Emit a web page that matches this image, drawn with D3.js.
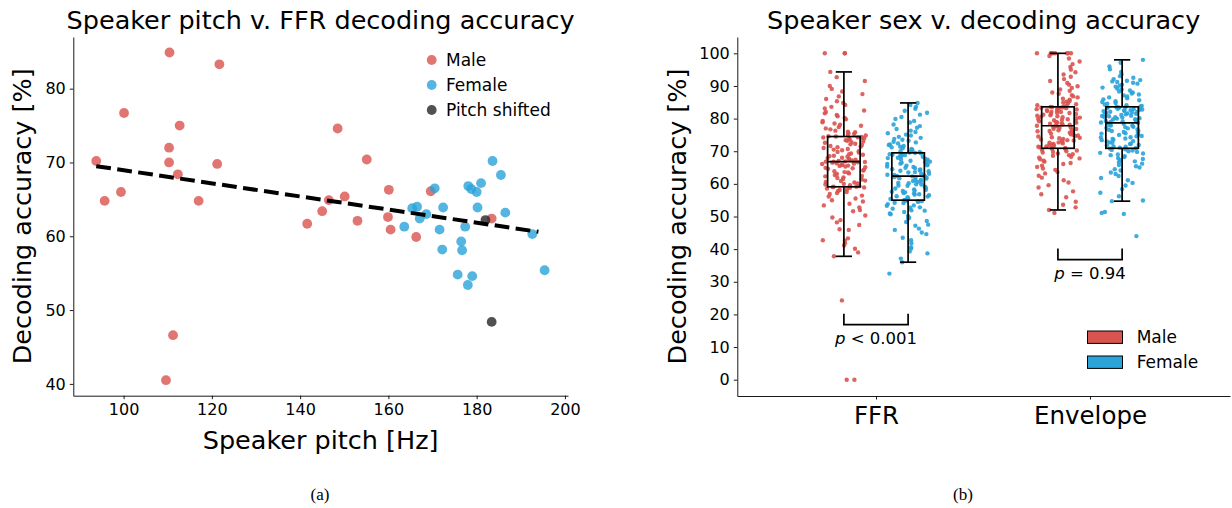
<!DOCTYPE html>
<html>
<head>
<meta charset="utf-8">
<script src="https://cdn.jsdelivr.net/npm/d3@7"></script>
<style>
  body { margin: 0; background: #fff; }
  text { font-family: "DejaVu Sans", sans-serif; fill: #000; }
</style>
</head>
<body>
<div id="chart"></div>
<script>
// ---- panel (a): speaker pitch vs FFR decoding accuracy ----
const malePitch = [110.4, 121.7, 100.1, 112.7, 110.3, 93.8, 110.3, 121.2, 112.3, 95.7, 99.4, 117.0, 141.6, 145.0,
  111.2, 109.6, 148.5, 155.1, 146.5, 150.1, 153.0, 160.1, 159.9, 160.5, 166.3, 169.6, 183.4];
const maleAcc = [84.9, 83.3, 76.7, 75.0, 72.0, 70.2, 70.0, 69.8, 68.4, 64.8, 66.0, 64.8, 61.7, 63.4,
  46.6, 40.5, 74.6, 70.4, 64.9, 65.4, 62.1, 66.3, 62.6, 60.9, 59.9, 66.1, 62.4];
const femalePitch = [170.5, 165.4, 166.5, 168.6, 167.1, 172.4, 163.6, 171.6, 172.2, 176.5, 176.7, 177.4, 175.7,
  179.0, 178.0, 178.1, 178.8, 180.0, 181.0, 180.2, 183.6, 185.5, 186.5, 192.6, 195.4];
const femaleAcc = [66.5, 63.8, 64.0, 63.0, 62.4, 63.9, 61.3, 60.9, 58.2, 59.3, 58.1, 61.3, 54.8,
  54.6, 53.4, 66.8, 66.4, 66.0, 67.2, 63.9, 70.2, 68.3, 63.2, 60.3, 55.4];
const shiftedPitch = [182.0, 183.4];
const shiftedAcc = [62.2, 48.4];
const fitPitch = [93.8, 194.0];
const fitAcc = [69.5, 60.6];
const pitchTicks = [100, 120, 140, 160, 180, 200];
const accTicksA = [40, 50, 60, 70, 80];
const legendA = ["Male", "Female", "Pitch shifted"];

// ---- panel (b): speaker sex vs decoding accuracy ----
const features = ["FFR", "Envelope"];
const sexes = ["Male", "Female"];
const ffrMale = [0, 0, 24.3, 37.8, 39.0, 40.1, 41.1, 41.8, 42.6, 42.7, 43.3, 45.9, 46.1, 47.4, 48.2, 48.9, 49.7, 50.3,
  51.6, 52.0, 52.8, 53.4, 53.9, 54.6, 55.0, 55.5, 56.1, 56.4, 56.9, 57.2, 57.5, 57.8, 58.1, 58.3, 58.6, 58.8, 58.9,
  59.0, 59.1, 59.1, 59.3, 59.6, 59.8, 60.0, 60.1, 60.4, 60.6, 60.9, 61.0, 61.3, 61.5, 61.8, 62.0, 62.3, 62.4, 62.7,
  63.0, 63.2, 63.5, 63.6, 63.9, 64.1, 64.3, 64.6, 64.8, 64.9, 65.1, 65.3, 65.5, 65.6, 65.8, 65.9, 66.1, 66.2, 66.3,
  66.5, 66.6, 66.7, 66.8, 66.8, 66.9, 67.0, 67.2, 67.4, 67.5, 67.7, 67.9, 68.0, 68.3, 68.5, 68.6, 68.9, 69.1, 69.3,
  69.6, 69.8, 70.0, 70.3, 70.5, 70.7, 71.0, 71.2, 71.4, 71.6, 71.9, 72.1, 72.3, 72.6, 72.8, 73.0, 73.2, 73.4, 73.6,
  73.8, 73.9, 74.1, 74.2, 74.3, 74.4, 74.5, 74.6, 74.8, 75.0, 75.3, 75.5, 75.8, 76.0, 76.3, 76.7, 77.0, 77.4, 77.8,
  78.1, 78.5, 78.9, 79.3, 79.8, 80.2, 80.7, 81.1, 81.6, 82.0, 82.5, 83.1, 83.6, 84.2, 84.8, 85.3, 86.0, 86.8, 87.5,
  88.3, 89.1, 90.0, 91.5, 92.7, 94.3, 100, 100, 100];
const ffrFemale = [32.5, 36.0, 37.1, 38.7, 39.3, 40.2, 40.6, 41.8, 42.7, 43.5, 44.6, 45.1, 45.9, 46.3, 47.2, 47.5,
  48.3, 48.6, 49.4, 49.6, 50.2, 50.7, 50.9, 51.4, 51.8, 51.9, 52.4, 52.7, 52.8, 53.3, 53.4, 53.8, 54.1, 54.2, 54.5,
  54.6, 54.7, 54.9, 54.9, 55.0, 55.1, 55.4, 55.5, 55.9, 56.1, 56.2, 56.5, 56.7, 56.8, 57.1, 57.2, 57.4, 57.6, 57.8,
  57.9, 58.2, 58.3, 58.6, 58.7, 59.0, 59.1, 59.4, 59.5, 59.8, 59.9, 60.2, 60.3, 60.6, 60.7, 60.9, 61.2, 61.3, 61.6,
  61.7, 61.9, 62.0, 62.1, 62.3, 62.3, 62.4, 62.5, 62.7, 62.8, 63.1, 63.2, 63.5, 63.6, 63.9, 64.0, 64.2, 64.4, 64.5,
  64.8, 64.9, 65.2, 65.3, 65.6, 65.7, 65.9, 66.1, 66.2, 66.5, 66.6, 66.8, 67.0, 67.1, 67.4, 67.5, 67.7, 67.9, 68.0,
  68.3, 68.4, 68.6, 68.8, 68.9, 69.1, 69.2, 69.4, 69.5, 69.6, 69.8, 70.0, 70.3, 70.4, 70.7, 70.9, 71.2, 71.4, 71.6,
  71.9, 72.1, 72.4, 72.7, 72.9, 73.2, 73.5, 73.8, 74.1, 74.4, 74.8, 75.1, 75.5, 75.9, 76.3, 76.8, 77.2, 77.7, 78.2,
  78.8, 79.3, 79.9, 80.5, 81.2, 81.8, 82.4, 83.0, 83.6, 84.2, 84.8];
const envMale = [51.1, 52.0, 52.8, 53.6, 54.5, 55.9, 56.8, 57.7, 58.9, 59.6, 60.4, 61.1, 61.9, 62.5, 63.2, 63.6,
  64.3, 64.7, 65.2, 65.6, 66.1, 66.4, 66.8, 67.1, 67.5, 67.8, 68.0, 68.3, 68.6, 68.8, 69.1, 69.3, 69.6, 69.8, 70.0,
  70.2, 70.4, 70.6, 70.8, 70.9, 71.0, 71.2, 71.4, 71.5, 71.7, 71.9, 72.0, 72.2, 72.4, 72.6, 72.7, 72.9, 73.1, 73.3,
  73.4, 73.6, 73.8, 74.0, 74.1, 74.3, 74.5, 74.7, 74.8, 75.0, 75.2, 75.4, 75.5, 75.7, 75.9, 76.1, 76.2, 76.4, 76.6,
  76.8, 76.9, 77.1, 77.3, 77.5, 77.6, 77.8, 77.9, 78.1, 78.2, 78.4, 78.5, 78.7, 78.8, 79.0, 79.2, 79.3, 79.5, 79.6,
  79.8, 79.9, 80.1, 80.3, 80.4, 80.6, 80.7, 80.9, 81.0, 81.2, 81.4, 81.5, 81.7, 81.8, 82.0, 82.1, 82.3, 82.5, 82.6,
  82.8, 82.9, 83.0, 83.1, 83.2, 83.3, 83.4, 83.5, 83.6, 83.7, 83.9, 84.1, 84.4, 84.6, 84.9, 85.2, 85.4, 85.8, 86.1,
  86.5, 86.8, 87.2, 87.6, 88.0, 88.5, 88.9, 89.4, 89.9, 90.4, 90.9, 91.5, 92.1, 92.8, 93.5, 94.2, 95.0, 95.8, 96.7,
  97.5, 98.4, 99.2, 100, 100, 100, 100, 100, 100, 100, 100];
const envFemale = [44.0, 50.8, 51.1, 51.4, 54.7, 54.9, 56.2, 57.3, 58.4, 59.5, 60.3, 61.1, 61.8, 62.4, 63.0, 63.5,
  64.1, 64.5, 65.0, 65.4, 65.8, 66.2, 66.6, 66.9, 67.3, 67.6, 67.9, 68.2, 68.5, 68.8, 69.0, 69.3, 69.5, 69.8, 70.0,
  70.2, 70.4, 70.6, 70.8, 70.9, 71.1, 71.4, 71.5, 71.8, 71.9, 72.2, 72.3, 72.6, 72.7, 73.0, 73.1, 73.4, 73.5, 73.8,
  73.9, 74.2, 74.3, 74.6, 74.7, 75.0, 75.1, 75.4, 75.5, 75.8, 75.9, 76.2, 76.3, 76.6, 76.7, 77.0, 77.1, 77.4, 77.5,
  77.8, 77.9, 78.1, 78.3, 78.4, 78.6, 78.7, 78.8, 79.0, 79.1, 79.3, 79.4, 79.6, 79.7, 79.8, 80.0, 80.1, 80.3, 80.4,
  80.5, 80.7, 80.8, 80.9, 81.1, 81.2, 81.3, 81.5, 81.6, 81.7, 81.9, 82.0, 82.1, 82.3, 82.4, 82.5, 82.6, 82.7, 82.8,
  82.9, 83.0, 83.1, 83.2, 83.3, 83.4, 83.5, 83.5, 83.6, 83.7, 83.9, 84.1, 84.3, 84.6, 84.8, 85.1, 85.3, 85.6, 85.9,
  86.2, 86.5, 86.8, 87.1, 87.4, 87.7, 88.0, 88.3, 88.6, 88.9, 89.2, 89.5, 89.8, 90.1, 90.4, 90.7, 91.0, 91.2, 91.4,
  91.6, 91.8, 92.1, 92.5, 93.0, 93.6, 94.3, 95.1, 96.0, 97.1, 98.0];
// box stats, order: FFR male, FFR female, Envelope male, Envelope female
const boxQ1 = [59.1, 55.0, 70.9, 70.9];
const boxMedian = [66.8, 62.4, 77.8, 78.7];
const boxQ3 = [74.5, 69.5, 83.6, 83.6];
const whiskerLow = [37.8, 36.0, 52.0, 54.7];
const whiskerHigh = [94.3, 84.8, 100, 98.0];
const accTicksB = [0, 10, 20, 30, 40, 50, 60, 70, 80, 90, 100];
const pLabels = ["< 0.001", "= 0.94"];
const bracketLow = [16.9, 36.8];
const bracketHigh = [20.2, 40.2];

const W = 1232, H = 508;
const COL = { Male: "#d9534f", Female: "#2aa3d9", "Pitch shifted": "#333333" };
const BIG = 25.5, TICK = 16, LEG = 17;

const svg = d3.select("#chart").append("svg")
  .attr("width", W).attr("height", H)
  .attr("viewBox", `0 0 ${W} ${H}`);
svg.append("rect").attr("width", W).attr("height", H).attr("fill", "#fff");

function styleAxis(g) {
  g.select(".domain").attr("stroke", "#000").attr("stroke-width", 0.9);
  g.selectAll(".tick line").attr("stroke", "#000").attr("stroke-width", 0.9);
  g.selectAll(".tick text").attr("font-size", TICK);
}

// stable per-point jitter (layout only, not data)
function jitter(i, k) {
  const s = Math.sin((i + 1) * 12.9898 + (k + 1) * 78.233) * 43758.5453;
  return s - Math.floor(s) - 0.5;
}

// ================= panel (a) =================
const ax = { left: 73.3, right: 568, top: 37, bottom: 395.7 };
const xA = d3.scaleLinear().domain([88.6, 200.7]).range([ax.left, ax.right]);
const yA = d3.scaleLinear().domain([38.4, 87.0]).range([ax.bottom, ax.top]);

const gA = svg.append("g");
gA.append("g").attr("transform", `translate(0,${ax.bottom})`)
  .call(d3.axisBottom(xA).tickValues(pitchTicks).tickSize(3.5).tickPadding(4).tickSizeOuter(0))
  .call(styleAxis);
gA.append("g").attr("transform", `translate(${ax.left},0)`)
  .call(d3.axisLeft(yA).tickValues(accTicksA).tickSize(3.5).tickPadding(4).tickSizeOuter(0))
  .call(styleAxis);

const groupsA = [
  { name: "Male", xs: malePitch, ys: maleAcc },
  { name: "Female", xs: femalePitch, ys: femaleAcc },
  { name: "Pitch shifted", xs: shiftedPitch, ys: shiftedAcc }
];
groupsA.forEach(grp => {
  gA.append("g").selectAll("circle")
    .data(grp.xs.map((x, i) => [x, grp.ys[i]]))
    .join("circle")
    .attr("cx", d => xA(d[0]))
    .attr("cy", d => yA(d[1]))
    .attr("r", 4.9)
    .attr("fill", COL[grp.name])
    .attr("fill-opacity", grp.name === "Pitch shifted" ? 0.85 : 0.8);
});

gA.append("path")
  .datum(fitPitch.map((x, i) => [xA(x), yA(fitAcc[i])]))
  .attr("d", d3.line())
  .attr("fill", "none")
  .attr("stroke", "#000")
  .attr("stroke-width", 4)
  .attr("stroke-dasharray", "14.8,6.4");

// legend (a)
legendA.forEach((name, i) => {
  const y = 60 + i * 25;
  gA.append("circle").attr("cx", 431.7).attr("cy", y).attr("r", 4.9)
    .attr("fill", COL[name]).attr("fill-opacity", name === "Pitch shifted" ? 0.85 : 0.8);
  gA.append("text").attr("x", 446).attr("y", y).attr("dy", "0.36em")
    .attr("font-size", LEG).text(name);
});

gA.append("text").attr("x", (ax.left + ax.right) / 2).attr("y", 29)
  .attr("text-anchor", "middle").attr("font-size", BIG).text("Speaker pitch v. FFR decoding accuracy");
gA.append("text").attr("x", (ax.left + ax.right) / 2).attr("y", 449)
  .attr("text-anchor", "middle").attr("font-size", BIG).text("Speaker pitch [Hz]");
gA.append("text").attr("transform", `translate(31,${(ax.top + ax.bottom) / 2}) rotate(-90)`)
  .attr("text-anchor", "middle").attr("font-size", BIG).text("Decoding accuracy [%]");
gA.append("text").attr("x", 320).attr("y", 500).attr("text-anchor", "middle")
  .attr("style", "font-family:'Liberation Serif',serif")
  .attr("font-size", 17).text("(a)");

// ================= panel (b) =================
const bx = { left: 737.3, right: 1230, top: 37, bottom: 396 };
const xB = d3.scaleLinear().domain([-0.648, 1.654]).range([bx.left, bx.right]);
const yB = d3.scaleLinear().domain([-5, 105]).range([bx.bottom, bx.top]);
const hueOffset = [-0.15, 0.15];
const boxWidth = 0.152;

const gB = svg.append("g");
gB.append("g").attr("transform", `translate(0,${bx.bottom})`)
  .call(d3.axisBottom(xB).tickValues([0, 1]).tickFormat(i => features[i]).tickSize(3.5).tickPadding(7).tickSizeOuter(0))
  .call(styleAxis)
  .call(g => g.selectAll(".tick text").attr("font-size", 24.5));
gB.append("g").attr("transform", `translate(${bx.left},0)`)
  .call(d3.axisLeft(yB).tickValues(accTicksB).tickSize(3.5).tickPadding(4).tickSizeOuter(0))
  .call(styleAxis);

const strips = [ffrMale, ffrFemale, envMale, envFemale];
strips.forEach((vals, k) => {
  const fi = Math.floor(k / 2), si = k % 2;
  const center = fi + hueOffset[si];
  gB.append("g").selectAll("circle")
    .data(vals)
    .join("circle")
    .attr("cx", (v, i) => xB(center + jitter(i, k) * 0.205))
    .attr("cy", v => yB(v))
    .attr("r", 2.2)
    .attr("fill", COL[sexes[si]])
    .attr("fill-opacity", 0.9);
});

// boxes drawn over the points
const boxes = gB.append("g").attr("stroke", "#000").attr("stroke-width", 1.7).attr("fill", "none");
boxQ1.forEach((q1, k) => {
  const fi = Math.floor(k / 2), si = k % 2;
  const c = fi + hueOffset[si];
  const x0 = xB(c - boxWidth / 2), x1 = xB(c + boxWidth / 2);
  const xc = xB(c), cw = (x1 - x0) / 4;
  boxes.append("line").attr("x1", xc).attr("x2", xc).attr("y1", yB(boxQ3[k])).attr("y2", yB(whiskerHigh[k]));
  boxes.append("line").attr("x1", xc).attr("x2", xc).attr("y1", yB(q1)).attr("y2", yB(whiskerLow[k]));
  boxes.append("line").attr("x1", xc - cw).attr("x2", xc + cw).attr("y1", yB(whiskerHigh[k])).attr("y2", yB(whiskerHigh[k]));
  boxes.append("line").attr("x1", xc - cw).attr("x2", xc + cw).attr("y1", yB(whiskerLow[k])).attr("y2", yB(whiskerLow[k]));
  boxes.append("rect").attr("x", x0).attr("y", yB(boxQ3[k])).attr("width", x1 - x0).attr("height", yB(q1) - yB(boxQ3[k]));
  boxes.append("line").attr("x1", x0).attr("x2", x1).attr("y1", yB(boxMedian[k])).attr("y2", yB(boxMedian[k]));
});

// significance brackets
features.forEach((f, fi) => {
  const xl = xB(fi + hueOffset[0]), xr = xB(fi + hueOffset[1]);
  const yl = yB(bracketLow[fi]), yh = yB(bracketHigh[fi]);
  gB.append("path")
    .attr("d", d3.line()([[xl, yh], [xl, yl], [xr, yl], [xr, yh]]))
    .attr("fill", "none").attr("stroke", "#000").attr("stroke-width", 1.7);
  const t = gB.append("text").attr("x", xB(fi)).attr("y", yl + 19)
    .attr("text-anchor", "middle").attr("font-size", 16.5);
  t.append("tspan").attr("font-style", "italic").text("p");
  t.append("tspan").text(" " + pLabels[fi]);
});

// legend (b)
sexes.forEach((s, i) => {
  const y = 331 + i * 25;
  gB.append("rect").attr("x", 1087.5).attr("y", y).attr("width", 35).attr("height", 12.4)
    .attr("fill", COL[s]).attr("stroke", "#000").attr("stroke-width", 1);
  gB.append("text").attr("x", 1136.7).attr("y", y + 6.2).attr("dy", "0.36em")
    .attr("font-size", LEG).text(s);
});

gB.append("text").attr("x", (bx.left + bx.right) / 2).attr("y", 29)
  .attr("text-anchor", "middle").attr("font-size", BIG).text("Speaker sex v. decoding accuracy");
gB.append("text").attr("transform", `translate(686,${(bx.top + bx.bottom) / 2}) rotate(-90)`)
  .attr("text-anchor", "middle").attr("font-size", BIG).text("Decoding accuracy [%]");
gB.append("text").attr("x", 963).attr("y", 500).attr("text-anchor", "middle")
  .attr("style", "font-family:'Liberation Serif',serif")
  .attr("font-size", 17).text("(b)");
</script>
</body>
</html>
